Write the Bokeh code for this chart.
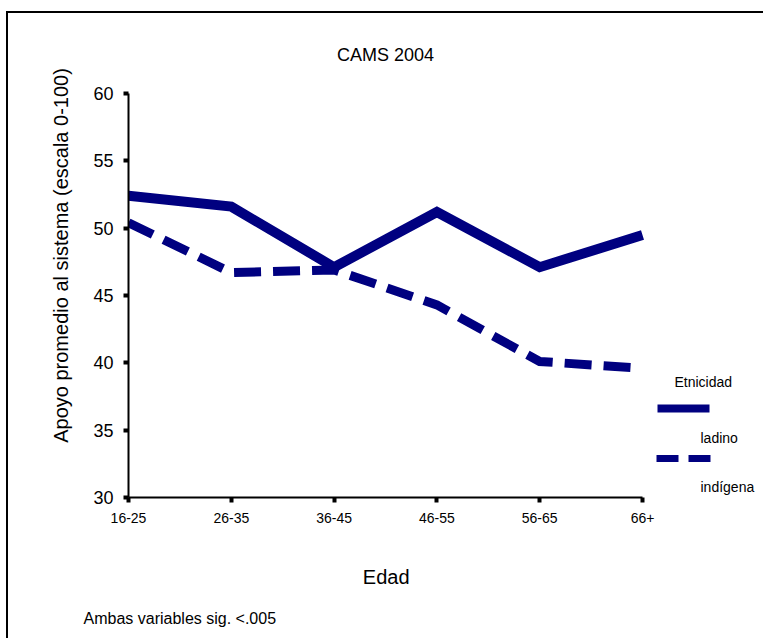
from bokeh.plotting import figure
from bokeh.models import FixedTicker, Title, Label, Arrow, GlobalInlineStyleSheet
from bokeh.embed import file_html
from bokeh.resources import INLINE

# ---- data ----
categories = ["16-25", "26-35", "36-45", "46-55", "56-65", "66+"]
ladino = [52.4, 51.6, 47.1, 51.2, 47.1, 49.5]
indigena = [50.4, 46.7, 46.9, 44.3, 40.1, 39.6]
y_ticks = [30, 35, 40, 45, 50, 55, 60]
legend_title = "Etnicidad"
series_names = ["ladino", "indígena"]

# ---- layout (canvas pixels) ----
W, H = 752, 624
FL, FR, FT, FB = 120, 634, 80, 484  # where the axes' end ticks sit
NAVY = "#000080"
FONT = "Liberation Sans"

xs = list(range(len(categories)))
xmin, xmax = 0, len(categories) - 1
ymin, ymax = y_ticks[0], y_ticks[-1]
PXX = (FR - FL) / (xmax - xmin)
PXY = (FB - FT) / (ymax - ymin)

# the frame spans from the axes to the top/right canvas edges, so that the
# title and legend can be placed inside it
p = figure(width=W, height=H,
           x_range=(xmin, xmax + (W - FR) / PXX), y_range=(ymin, ymax + FT / PXY),
           output_backend="svg", toolbar_location=None,
           min_border_left=FL, min_border_right=0,
           min_border_top=0, min_border_bottom=H - FB)
# page frame: top and left rules drawn by the page body itself
p.stylesheets = [GlobalInlineStyleSheet(css=(
    "html { overflow: hidden !important; }"
    "body { overflow: hidden !important; margin: 11px 0 0 6px !important; "
    "border-top: 2px solid black !important; border-left: 2px solid black !important; }"))]
p.title.visible = False
p.outline_line_color = None
p.grid.grid_line_color = None
p.background_fill_color = "white"
p.border_fill_color = "white"


def dx(cx):
    return xmin + (cx - FL) / PXX


def dy(cy):
    return ymax - (cy - FT) / PXY


p.line(xs, ladino, line_color=NAVY, line_width=10, line_join="miter", line_cap="butt")
p.line(xs, indigena, line_color=NAVY, line_width=9, line_join="miter", line_cap="butt",
       line_dash="27 12")

# axes
p.xaxis.ticker = FixedTicker(ticks=xs)
p.xaxis.major_label_overrides = {i: c for i, c in enumerate(categories)}
p.xaxis.bounds = (xmin, xmax)
p.yaxis.ticker = FixedTicker(ticks=y_ticks)
p.yaxis.bounds = (ymin, ymax)
for ax in (p.xaxis, p.yaxis):
    ax.minor_tick_line_color = None
    ax.major_tick_in = 0
    ax.major_tick_out = 5
    ax.major_tick_line_width = 4
    ax.major_tick_line_color = "black"
    ax.axis_line_width = 2
    ax.axis_line_color = "black"
    ax.major_label_text_font = FONT
    ax.major_label_text_color = "black"
    ax.axis_label_text_font = FONT
    ax.axis_label_text_font_style = "normal"
    ax.axis_label_text_color = "black"
p.xaxis.major_label_text_font_size = "14px"
p.xaxis.major_label_standoff = 10
p.yaxis.major_label_text_font_size = "18px"
p.yaxis.major_label_standoff = 10
p.yaxis.axis_label = "Apoyo promedio al sistema (escala 0-100)"
p.yaxis.axis_label_text_font_size = "20px"
p.yaxis.axis_label_standoff = 18
# the frame is wider than the category axis; trailing no-break spaces keep the
# label centred under the categories
p.xaxis.axis_label = "Edad" + "\u00a0" * 21
p.xaxis.axis_label_text_font_size = "20px"
p.xaxis.axis_label_standoff = 40

# footnote (first line left empty to sit lower in its panel)
p.add_layout(Title(text="\nAmbas variables sig. <.005", align="left", offset=-45,
                   text_font=FONT, text_font_size="16px", text_font_style="normal",
                   text_color="black", standoff=0), "below")

# chart title
p.add_layout(Label(x=(xmin + xmax) / 2, y=dy(41), text="CAMS 2004",
                   text_align="center", text_baseline="middle",
                   text_font=FONT, text_font_size="18px", text_color="black"))

# legend
p.add_layout(Label(x=dx(666), y=dy(368), text=legend_title, text_align="left",
                   text_baseline="middle", text_font=FONT, text_font_size="14px",
                   text_color="black"))
p.add_layout(Arrow(end=None, x_start=dx(649), x_end=dx(701), y_start=dy(395), y_end=dy(395),
                   line_color=NAVY, line_width=8, line_cap="butt"))
p.add_layout(Label(x=dx(692), y=dy(424), text=series_names[0], text_align="left",
                   text_baseline="middle", text_font=FONT, text_font_size="14px",
                   text_color="black"))
p.add_layout(Arrow(end=None, x_start=dx(648), x_end=dx(702), y_start=dy(445), y_end=dy(445),
                   line_color=NAVY, line_width=7, line_cap="butt", line_dash="22 10"))
p.add_layout(Label(x=dx(692), y=dy(473), text=series_names[1], text_align="left",
                   text_baseline="middle", text_font=FONT, text_font_size="14px",
                   text_color="black"))

open("out.html", "w").write(file_html(p, INLINE))
